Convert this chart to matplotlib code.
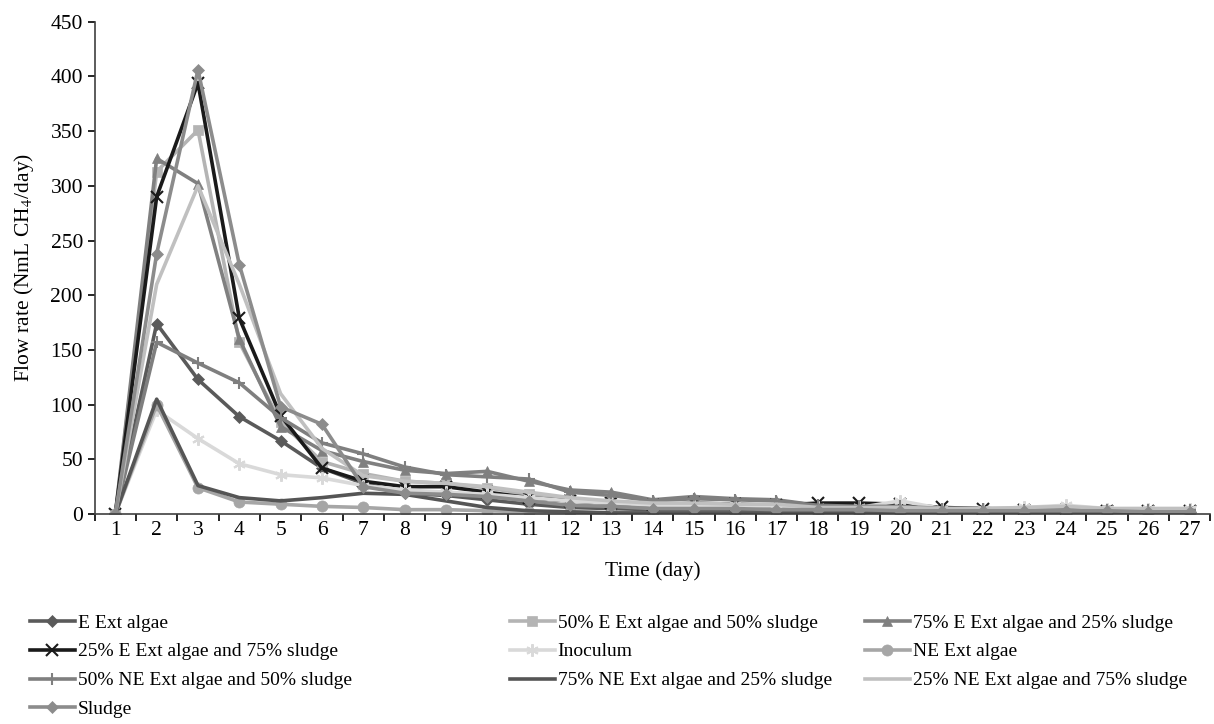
import numpy as np
import matplotlib
matplotlib.use("Agg")
import matplotlib.pyplot as plt
from matplotlib.ticker import FixedLocator, NullFormatter

plt.rcParams['font.family'] = ['Liberation Serif', 'DejaVu Serif']
plt.rcParams['mathtext.fontset'] = 'stix'

days = list(range(1, 28))

e_ext = [0, 174, 123, 89, 67, 42, 28, 19, 17, 13, 9, 6, 5, 4, 4, 4, 3, 3, 3, 3, 2, 2, 2, 2, 2, 2, 2]
e50 = [0, 313, 351, 157, 84, 48, 37, 30, 28, 24, 18, 13, 11, 9, 9, 8, 7, 5, 5, 5, 4, 4, 4, 4, 4, 3, 3]
e75 = [0, 325, 302, 160, 80, 58, 48, 40, 37, 39, 30, 22, 20, 13, 16, 14, 13, 8, 8, 8, 5, 5, 5, 5, 4, 4, 4]
e25 = [0, 290, 394, 179, 90, 42, 30, 25, 25, 20, 15, 12, 10, 8, 10, 9, 8, 10, 10, 9, 6, 5, 4, 4, 3, 3, 3]
inoculum = [0, 95, 69, 46, 36, 33, 26, 22, 20, 18, 15, 12, 10, 8, 8, 8, 8, 6, 6, 12, 5, 5, 6, 8, 5, 5, 5]
ne_ext = [0, 100, 24, 11, 9, 7, 6, 4, 4, 3, 2, 2, 1, 1, 1, 1, 1, 1, 1, 1, 1, 1, 1, 1, 1, 1, 1]
ne50 = [0, 157, 138, 120, 88, 65, 55, 43, 36, 34, 32, 20, 17, 12, 14, 13, 12, 8, 7, 7, 5, 5, 4, 4, 4, 4, 4]
ne75 = [0, 105, 26, 15, 12, 15, 19, 18, 12, 6, 3, 2, 1, 1, 1, 1, 1, 1, 1, 1, 1, 1, 1, 1, 1, 1, 1]
ne25 = [0, 210, 300, 210, 110, 60, 35, 30, 28, 25, 20, 15, 12, 10, 10, 9, 9, 6, 6, 6, 5, 5, 6, 7, 5, 5, 5]
sludge = [0, 238, 406, 228, 98, 82, 25, 19, 18, 16, 12, 8, 7, 5, 5, 5, 4, 4, 4, 3, 3, 3, 3, 3, 3, 2, 2]

labels = ['E Ext algae', '50% E Ext algae and 50% sludge', '75% E Ext algae and 25% sludge',
          '25% E Ext algae and 75% sludge', 'Inoculum', 'NE Ext algae',
          '50% NE Ext algae and 50% sludge', '75% NE Ext algae and 25% sludge',
          '25% NE Ext algae and 75% sludge', 'Sludge']
series = [e_ext, e50, e75, e25, inoculum, ne_ext, ne50, ne75, ne25, sludge]
colors = ['#5a5a5a', '#b4b4b4', '#808080', '#1a1a1a', '#d9d9d9', '#a6a6a6',
          '#7f7f7f', '#555555', '#c0c0c0', '#8c8c8c']
markers = ['D', 's', '^', 'x', (6, 2, 0), 'o', '+', None, None, 'D']
msizes = [6, 7, 7, 8, 9, 8, 9, 0, 0, 6]

fig = plt.figure(figsize=(12.14, 7.24), dpi=100)
ax = fig.add_axes([0.078, 0.29, 0.919, 0.68])

lines = []
for y, lab, c, m, ms in zip(series, labels, colors, markers, msizes):
    ln, = ax.plot(days, y, color=c, lw=2.6, marker=m, markersize=ms,
                  markeredgewidth=1.5 if m in ('x', '+', (6, 2, 0)) else 0.5,
                  markeredgecolor=c, label=lab)
    lines.append(ln)

ax.set_xlim(0.5, 27.5)
ax.set_ylim(0, 450)
ax.set_yticks(np.arange(0, 451, 50))
ax.set_xticks(days)
ax.xaxis.set_minor_locator(FixedLocator(np.arange(0.5, 28, 1)))
ax.xaxis.set_minor_formatter(NullFormatter())
ax.tick_params(axis='x', which='major', length=0, labelsize=15.5, pad=5)
ax.tick_params(axis='x', which='minor', length=5, width=1.2, direction='out')
ax.tick_params(axis='y', length=5, width=1.2, labelsize=15.5)
for s in ('top', 'right'):
    ax.spines[s].set_visible(False)
ax.spines['left'].set_color('#404040')
ax.spines['bottom'].set_color('#404040')
ax.spines['left'].set_linewidth(1.2)
ax.spines['bottom'].set_linewidth(1.2)

ax.set_xlabel('Time (day)', fontsize=15.5, labelpad=15)
ax.set_ylabel('Flow rate (NmL CH$_4$/day)', fontsize=15.5, labelpad=10)

cols = [[0, 3, 6, 9], [1, 4, 7], [2, 5, 8]]
xs = [30, 510, 865]
for idx, x0 in zip(cols, xs):
    fig.legend([lines[i] for i in idx], [labels[i] for i in idx],
               loc='upper left', bbox_to_anchor=(x0 / 1214, 1 - 614 / 724),
               frameon=False, fontsize=14, borderpad=0, borderaxespad=0,
               handlelength=2.3, handletextpad=0.15, labelspacing=0.58)

fig.savefig('out.png', dpi=100)
